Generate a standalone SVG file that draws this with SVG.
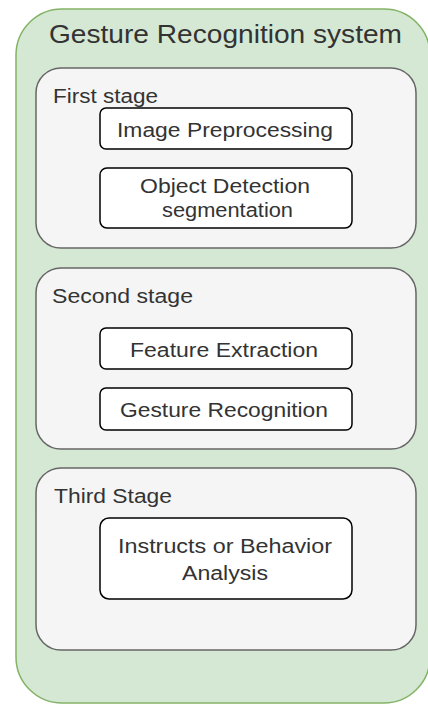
<svg xmlns="http://www.w3.org/2000/svg" width="428" height="704" viewBox="0 0 428 704">
<style>
text{font-family:"Liberation Sans",Arial,sans-serif;fill:#333333}
.outer{fill:#d5e8d4;stroke:#82b366;stroke-width:1.5}
.stage{fill:#f5f5f5;stroke:#666666;stroke-width:1.5}
.box{fill:#ffffff;stroke:#000000;stroke-width:1.5}
.title{font-size:25px}
.lbl{font-size:20px}
.in{font-size:20px;text-anchor:middle}
</style>
<rect width="428" height="704" fill="#ffffff"/>
<g id="system">
<rect class="outer" x="16" y="9" width="414" height="694" rx="46" ry="46"/>
<text class="title" x="49" y="43" textLength="353" lengthAdjust="spacingAndGlyphs">Gesture Recognition system</text>
</g>
<g id="first-stage">
<rect class="stage" x="36" y="68" width="380" height="180" rx="25" ry="25"/>
<text class="lbl" x="53" y="103" textLength="105" lengthAdjust="spacingAndGlyphs">First stage</text>
</g>
<g id="image-preprocessing">
<rect class="box" x="100" y="108" width="252" height="41" rx="6" ry="6"/>
<text class="in" x="225" y="137" textLength="216" lengthAdjust="spacingAndGlyphs">Image Preprocessing</text>
</g>
<g id="object-detection">
<rect class="box" x="100" y="168" width="252" height="60" rx="7" ry="7"/>
<text class="in" x="225" y="193" textLength="170" lengthAdjust="spacingAndGlyphs">Object Detection</text>
<text class="in" x="227.5" y="217" textLength="131" lengthAdjust="spacingAndGlyphs">segmentation</text>
</g>
<g id="second-stage">
<rect class="stage" x="36" y="268" width="380" height="181" rx="25" ry="25"/>
<text class="lbl" x="52" y="303" textLength="141" lengthAdjust="spacingAndGlyphs">Second stage</text>
</g>
<g id="feature-extraction">
<rect class="box" x="100" y="328" width="252" height="41" rx="6" ry="6"/>
<text class="in" x="224" y="357" textLength="188" lengthAdjust="spacingAndGlyphs">Feature Extraction</text>
</g>
<g id="gesture-recognition">
<rect class="box" x="100" y="388" width="252" height="42" rx="6" ry="6"/>
<text class="in" x="224" y="417" textLength="208" lengthAdjust="spacingAndGlyphs">Gesture Recognition</text>
</g>
<g id="third-stage">
<rect class="stage" x="36" y="468" width="380" height="182" rx="25" ry="25"/>
<text class="lbl" x="54" y="503" textLength="118" lengthAdjust="spacingAndGlyphs">Third Stage</text>
</g>
<g id="instructs">
<rect class="box" x="100" y="518" width="252" height="81" rx="9" ry="9"/>
<text class="in" x="225" y="553" textLength="214" lengthAdjust="spacingAndGlyphs">Instructs or Behavior</text>
<text class="in" x="225" y="580" textLength="86" lengthAdjust="spacingAndGlyphs">Analysis</text>
</g>
<g id="connectors"></g>
</svg>
